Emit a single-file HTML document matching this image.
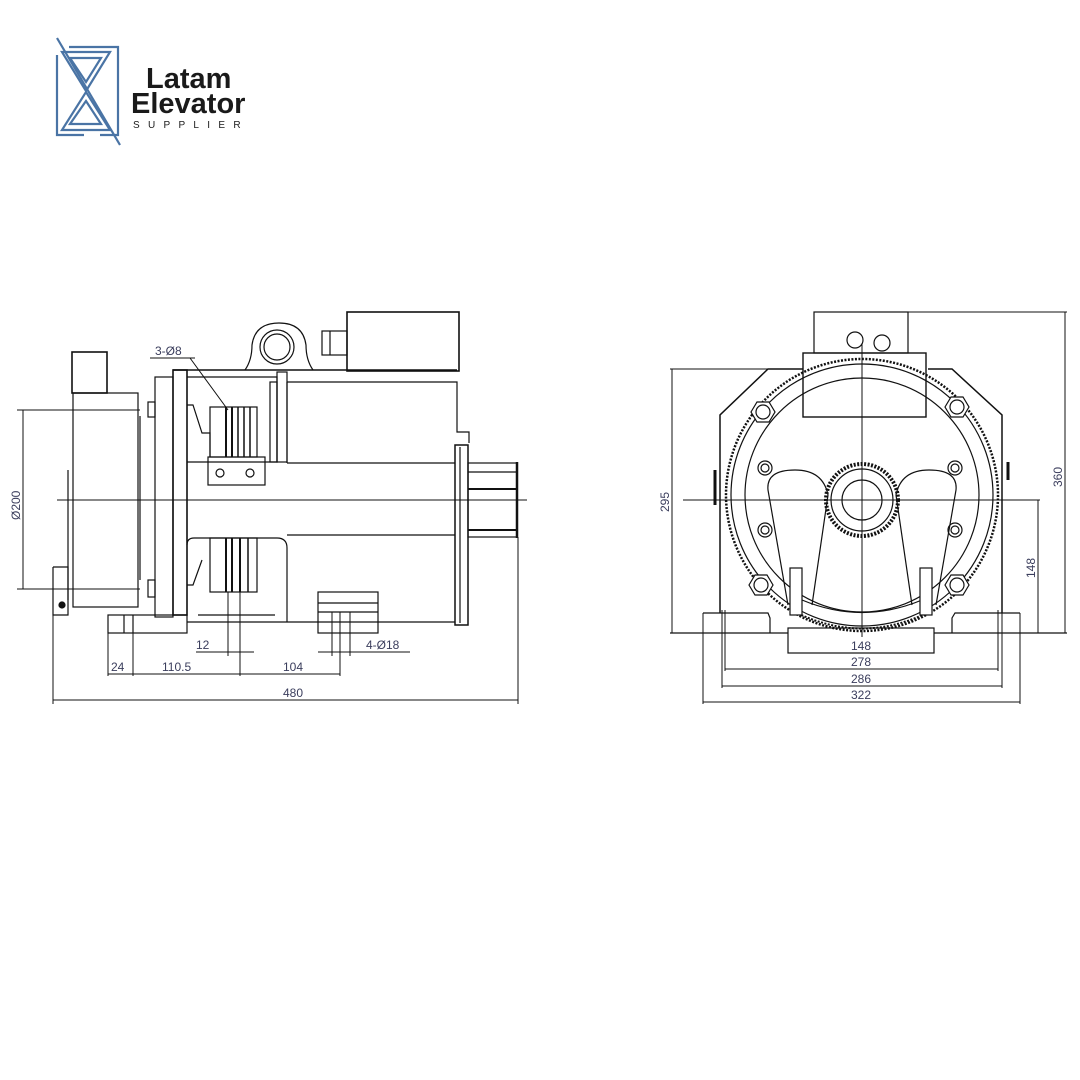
<!DOCTYPE html>
<html><head><meta charset="utf-8"><style>
html,body{margin:0;padding:0;background:#fff;}
svg{display:block;}
.d{font-family:"Liberation Sans",sans-serif;font-size:12px;fill:#3a3d5c;}
</style></head><body>
<svg width="1080" height="1080" viewBox="0 0 1080 1080" xmlns="http://www.w3.org/2000/svg">
<rect width="1080" height="1080" fill="#fff"/>
<!-- Logo -->
<g fill="none" stroke="#4a74a5" stroke-width="2.2">
<polyline points="69,47 118,47 118,135 100,135"/>
<polyline points="57,55 57,135 84,135"/>
<line x1="57" y1="38" x2="120" y2="145"/>
<polygon points="62,52 110,52 86,91"/>
<polygon points="70,58 101,58 86,82"/>
<polygon points="62,130 110,130 86,92"/>
<polygon points="70,124 101,124 86,101"/>
</g>
<text x="146" y="88" font-family="Liberation Sans,sans-serif" font-weight="bold" font-size="29" fill="#1a1a1a">Latam</text>
<text x="131" y="113" font-family="Liberation Sans,sans-serif" font-weight="bold" font-size="29" fill="#1a1a1a">Elevator</text>
<text x="133" y="128" font-family="Liberation Sans,sans-serif" font-size="10" letter-spacing="8.3" fill="#1a1a1a">SUPPLIER</text>

<!-- LEFT VIEW -->
<g fill="none" stroke="#111" stroke-width="1.2">
<rect x="72" y="352" width="35" height="41" stroke-width="1.6"/>
<rect x="73" y="393" width="65" height="214"/>
<line x1="140" y1="416" x2="140" y2="580"/>
<line x1="68" y1="470" x2="68" y2="600"/>
<polyline points="53,567 68,567 68,615 53,615 53,567"/>
<circle cx="62" cy="605" r="3" fill="#111"/>
<rect x="148" y="402" width="7" height="15"/>
<rect x="148" y="580" width="7" height="17"/>
<rect x="155" y="377" width="18" height="240"/>
<rect x="173" y="370" width="14" height="245" stroke-width="1.6"/>
<line x1="173" y1="370" x2="457" y2="370" stroke-width="1.6"/>
<polyline points="187,377 277,377 277,462 187,462"/>
<rect x="277" y="372" width="10" height="90"/>
<rect x="270" y="382" width="7" height="80"/>
<polyline points="187,405 193,405 202,433 210,433 210,457"/>
<path d="M245,370 Q252,360 252,345 Q255,323 279,323 Q303,323 306,345 Q306,360 313,370"/>
<circle cx="277" cy="347" r="17"/>
<circle cx="277" cy="347" r="13"/>
<rect x="347" y="312" width="112" height="59" stroke-width="1.6"/>
<rect x="322" y="331" width="25" height="24"/>
<line x1="330" y1="331" x2="330" y2="355"/>
<polyline points="287,382 457,382 457,432 469,432 469,443"/>
<line x1="287" y1="463" x2="455" y2="463"/>
<polyline points="287,463 287,382"/>
<rect x="455" y="445" width="13" height="180" stroke-width="1.5"/>
<line x1="460" y1="447" x2="460" y2="623"/>
<rect x="468" y="463" width="49" height="74"/>
<line x1="468" y1="472" x2="517" y2="472"/>
<line x1="468" y1="489" x2="517" y2="489" stroke-width="2"/>
<line x1="468" y1="530" x2="517" y2="530" stroke-width="2"/>
<line x1="517" y1="462" x2="517" y2="538" stroke-width="2.5"/>
<rect x="210" y="407" width="47" height="50"/>
<line x1="226" y1="407" x2="226" y2="457" stroke-width="2"/>
<line x1="232" y1="407" x2="232" y2="457" stroke-width="2"/>
<line x1="238" y1="407" x2="238" y2="457" stroke-width="1.5"/>
<line x1="244" y1="407" x2="244" y2="457" stroke-width="1.5"/>
<line x1="250" y1="407" x2="250" y2="457" stroke-width="1.5"/>
<rect x="208" y="457" width="57" height="28"/>
<circle cx="220" cy="473" r="4"/><circle cx="250" cy="473" r="4"/>
<path d="M187,545 Q187,538 194,538 L277,538 Q287,538 287,548 L287,622"/>
<line x1="287" y1="535" x2="455" y2="535"/>
<rect x="210" y="538" width="47" height="54"/>
<line x1="226" y1="538" x2="226" y2="592" stroke-width="2"/>
<line x1="232" y1="538" x2="232" y2="592" stroke-width="2"/>
<line x1="240" y1="538" x2="240" y2="592" stroke-width="2"/>
<line x1="248" y1="538" x2="248" y2="592" stroke-width="1.5"/>
<polyline points="187,585 193,585 202,560"/>
<line x1="187" y1="622" x2="455" y2="622"/>
<line x1="198" y1="615" x2="275" y2="615"/>
<rect x="108" y="615" width="79" height="18"/>
<line x1="124" y1="615" x2="124" y2="633"/><line x1="133" y1="615" x2="133" y2="633"/>
<rect x="318" y="592" width="60" height="41"/>
<line x1="318" y1="603" x2="378" y2="603"/><line x1="318" y1="612" x2="378" y2="612"/>
</g>
<g stroke="#111" stroke-width="1" fill="none">
<line x1="57" y1="500" x2="527" y2="500"/>
<line x1="17" y1="410" x2="140" y2="410"/>
<line x1="17" y1="589" x2="140" y2="589"/>
<line x1="23" y1="410" x2="23" y2="589"/>
<line x1="108" y1="633" x2="108" y2="676"/>
<line x1="133" y1="633" x2="133" y2="676"/>
<line x1="240" y1="592" x2="240" y2="676"/>
<line x1="228" y1="592" x2="228" y2="656"/>
<line x1="340" y1="612" x2="340" y2="676"/>
<line x1="332" y1="612" x2="332" y2="656"/>
<line x1="350" y1="612" x2="350" y2="656"/>
<line x1="53" y1="615" x2="53" y2="704"/>
<line x1="518" y1="537" x2="518" y2="704"/>
<line x1="196" y1="652" x2="254" y2="652"/>
<line x1="318" y1="652" x2="410" y2="652"/>
<line x1="108" y1="674" x2="340" y2="674"/>
<line x1="53" y1="700" x2="518" y2="700"/>
<line x1="150" y1="358" x2="195" y2="358"/>
<line x1="190" y1="358" x2="228" y2="410"/>
</g>
<text class="d" x="155" y="355">3-Ø8</text>
<text class="d" x="196" y="649">12</text>
<text class="d" x="366" y="649">4-Ø18</text>
<text class="d" x="111" y="671">24</text>
<text class="d" x="162" y="671">110.5</text>
<text class="d" x="283" y="671">104</text>
<text class="d" x="283" y="697">480</text>
<text class="d" transform="translate(20,520) rotate(-90)">Ø200</text>

<!-- RIGHT VIEW -->
<g fill="none" stroke="#111" stroke-width="1.2">
<rect x="814" y="312" width="94" height="41"/>
<circle cx="855" cy="340" r="8"/>
<circle cx="882" cy="343" r="8"/>
<rect x="803" y="353" width="123" height="64" stroke-width="1.4"/>
<polyline points="803,369 768,369 720,415 720,613" stroke-width="1.5"/>
<polyline points="928,369 952,369 1002,415 1002,613" stroke-width="1.5"/>
<circle cx="862" cy="495" r="136" stroke-width="2.5" stroke-dasharray="2 1.5"/>
<circle cx="862" cy="495" r="131"/>
<circle cx="862" cy="495" r="117"/>
<circle cx="862" cy="500" r="36" stroke-width="4" stroke-dasharray="2 1.5"/>
<circle cx="862" cy="500" r="31"/>
<circle cx="862" cy="500" r="20"/>
<g fill="#fff">
<polygon points="751,412 757,402 769,402 775,412 769,422 757,422"/><circle cx="763" cy="412" r="7"/>
<polygon points="945,407 951,397 963,397 969,407 963,417 951,417"/><circle cx="957" cy="407" r="7"/>
<polygon points="749,585 755,575 767,575 773,585 767,595 755,595"/><circle cx="761" cy="585" r="7"/>
<polygon points="945,585 951,575 963,575 969,585 963,595 951,595"/><circle cx="957" cy="585" r="7"/>
</g>
<circle cx="765" cy="468" r="7"/><circle cx="765" cy="468" r="4"/>
<circle cx="955" cy="468" r="7"/><circle cx="955" cy="468" r="4"/>
<circle cx="765" cy="530" r="7"/><circle cx="765" cy="530" r="4"/>
<circle cx="955" cy="530" r="7"/><circle cx="955" cy="530" r="4"/>
<path d="M788,605 L768,490 Q766,470 795,470 Q823,470 828,495 L812,605"/>
<path d="M936,605 L956,490 Q958,470 929,470 Q901,470 896,495 L912,605"/>
<path d="M802,600 Q862,625 922,600"/>
<path d="M795,612 Q862,645 929,612" stroke-width="2" stroke-dasharray="2 1.5"/>
<rect x="790" y="568" width="12" height="47" fill="#fff"/>
<rect x="920" y="568" width="12" height="47" fill="#fff"/>
<polyline points="703,613 768,613 770,618 770,633"/>
<polyline points="1020,613 955,613 952,618 952,633"/>
<rect x="788" y="628" width="146" height="25"/>
<line x1="670" y1="633" x2="788" y2="633"/>
<line x1="934" y1="633" x2="1067" y2="633"/>
<line x1="715" y1="470" x2="715" y2="505" stroke-width="3"/>
<line x1="1008" y1="462" x2="1008" y2="480" stroke-width="3"/>
</g>
<g stroke="#111" stroke-width="1" fill="none">
<line x1="862" y1="343" x2="862" y2="637"/>
<line x1="683" y1="500" x2="1040" y2="500"/>
<line x1="908" y1="312" x2="1067" y2="312"/>
<line x1="670" y1="369" x2="803" y2="369"/>
<line x1="672" y1="369" x2="672" y2="633"/>
<line x1="1065" y1="312" x2="1065" y2="633"/>
<line x1="1038" y1="500" x2="1038" y2="633"/>
<line x1="703" y1="613" x2="703" y2="704"/>
<line x1="1020" y1="613" x2="1020" y2="704"/>
<line x1="722" y1="610" x2="722" y2="688"/>
<line x1="1002" y1="610" x2="1002" y2="688"/>
<line x1="725" y1="610" x2="725" y2="671"/>
<line x1="998" y1="610" x2="998" y2="671"/>
<line x1="788" y1="653" x2="934" y2="653"/>
<line x1="725" y1="669" x2="998" y2="669"/>
<line x1="722" y1="686" x2="1002" y2="686"/>
<line x1="703" y1="702" x2="1020" y2="702"/>
</g>
<text class="d" x="851" y="650">148</text>
<text class="d" x="851" y="666">278</text>
<text class="d" x="851" y="683">286</text>
<text class="d" x="851" y="699">322</text>
<text class="d" transform="translate(669,512) rotate(-90)">295</text>
<text class="d" transform="translate(1062,487) rotate(-90)">360</text>
<text class="d" transform="translate(1035,578) rotate(-90)">148</text>
</svg>
</body></html>
